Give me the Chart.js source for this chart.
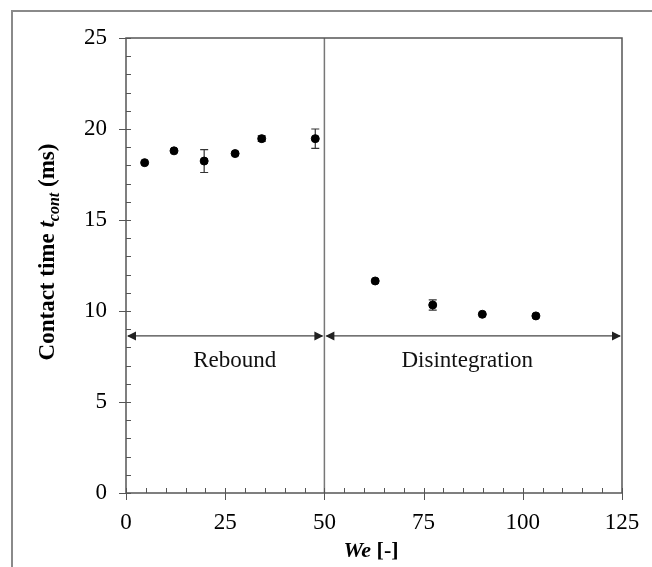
<!DOCTYPE html>
<html>
<head>
<meta charset="utf-8">
<script src="https://cdn.jsdelivr.net/npm/chart.js@4/dist/chart.umd.min.js"></script>
<style>
  html, body { margin: 0; padding: 0; background: #fff; }
  #wrap { width: 652px; height: 567px; }
</style>
</head>
<body>
<div id="wrap"><canvas id="c" width="652" height="567"></canvas></div>
<script>
// Weber number and contact time (ms)
const weValues = [4.7, 12.1, 19.7, 27.5, 34.2, 47.7, 62.8, 77.3, 89.8, 103.3];
const contactTime = [18.15, 18.8, 18.24, 18.65, 19.47, 19.47, 11.65, 10.33, 9.82, 9.73];
const contactErr = [0, 0, 0.63, 0, 0.15, 0.53, 0, 0.28, 0, 0];

const xTicks = [0, 25, 50, 75, 100, 125];
const yTicks = [0, 5, 10, 15, 20, 25];

// regime boundary and labels
const boundaryWe = 50;
const arrowLevel = 8.63;
const regimes = [
  { label: 'Rebound', from: 0, to: 50, textX: 27.4 },
  { label: 'Disintegration', from: 50, to: 125, textX: 86 }
];
const regimeTextY = 7.25;

const serif = "'Liberation Serif', 'Times New Roman', serif";
const axisColor = '#555';

function arrowHead(ctx, x, y, dir) {
  ctx.beginPath();
  ctx.moveTo(x, y);
  ctx.lineTo(x - dir * 9, y - 4.5);
  ctx.lineTo(x - dir * 9, y + 4.5);
  ctx.closePath();
  ctx.fill();
}

const overlay = {
  id: 'overlay',
  beforeDraw(chart) {
    const ctx = chart.ctx;
    ctx.save();
    ctx.fillStyle = '#fff';
    ctx.fillRect(0, 0, chart.width, chart.height);
    // outer figure frame (only top/left visible)
    ctx.strokeStyle = '#8a8a8a';
    ctx.lineWidth = 2;
    ctx.beginPath();
    ctx.moveTo(12, chart.height);
    ctx.lineTo(12, 11);
    ctx.lineTo(chart.width, 11);
    ctx.stroke();
    ctx.restore();
  },
  beforeDatasetsDraw(chart) {
    const ctx = chart.ctx;
    const xs = chart.scales.x, ys = chart.scales.y;
    ctx.save();
    // boundary line
    ctx.strokeStyle = '#777';
    ctx.lineWidth = 1.5;
    const bx = xs.getPixelForValue(boundaryWe);
    ctx.beginPath();
    ctx.moveTo(bx, ys.getPixelForValue(0));
    ctx.lineTo(bx, ys.getPixelForValue(25));
    ctx.stroke();

    // double arrows
    ctx.strokeStyle = '#444';
    ctx.fillStyle = '#222';
    ctx.lineWidth = 1.3;
    const ay = ys.getPixelForValue(arrowLevel);
    regimes.forEach(r => {
      const x1 = xs.getPixelForValue(r.from), x2 = xs.getPixelForValue(r.to);
      ctx.beginPath();
      ctx.moveTo(x1 + 2, ay);
      ctx.lineTo(x2 - 2, ay);
      ctx.stroke();
      arrowHead(ctx, x1 + 1, ay, -1);
      arrowHead(ctx, x2 - 1, ay, 1);
    });

    // regime labels
    ctx.fillStyle = '#111';
    ctx.font = '23px ' + serif;
    ctx.textAlign = 'center';
    ctx.textBaseline = 'middle';
    regimes.forEach(r => {
      ctx.fillText(r.label, xs.getPixelForValue(r.textX), ys.getPixelForValue(regimeTextY));
    });

    // error bars
    ctx.strokeStyle = '#333';
    ctx.lineWidth = 1.2;
    weValues.forEach((we, i) => {
      if (!contactErr[i]) return;
      const px = xs.getPixelForValue(we);
      const top = ys.getPixelForValue(contactTime[i] + contactErr[i]);
      const bot = ys.getPixelForValue(contactTime[i] - contactErr[i]);
      ctx.beginPath();
      ctx.moveTo(px, top); ctx.lineTo(px, bot);
      ctx.moveTo(px - 4, top); ctx.lineTo(px + 4, top);
      ctx.moveTo(px - 4, bot); ctx.lineTo(px + 4, bot);
      ctx.stroke();
    });
    ctx.restore();
  },
  afterDraw(chart) {
    const ctx = chart.ctx;
    const xs = chart.scales.x, ys = chart.scales.y;
    const a = chart.chartArea;
    ctx.save();
    ctx.strokeStyle = axisColor;
    ctx.lineWidth = 1.5;
    // plot frame
    ctx.strokeRect(a.left, a.top, a.right - a.left, a.bottom - a.top);

    ctx.lineWidth = 1;
    // y ticks: majors every 5 crossing, minors every 1 inside
    for (let v = 0; v <= 25; v++) {
      const py = Math.round(ys.getPixelForValue(v)) + 0.5;
      ctx.beginPath();
      if (v % 5 === 0) { ctx.moveTo(a.left - 7, py); ctx.lineTo(a.left + 5, py); }
      else { ctx.moveTo(a.left, py); ctx.lineTo(a.left + 5, py); }
      ctx.stroke();
    }
    // x ticks: majors every 25 crossing, minors every 5 inside
    for (let v = 0; v <= 125; v += 5) {
      const px = Math.round(xs.getPixelForValue(v)) + 0.5;
      ctx.beginPath();
      if (v % 25 === 0) { ctx.moveTo(px, a.bottom + 7); ctx.lineTo(px, a.bottom - 5); }
      else { ctx.moveTo(px, a.bottom); ctx.lineTo(px, a.bottom - 5); }
      ctx.stroke();
    }

    // axis titles with mixed styles
    ctx.fillStyle = '#000';
    ctx.textBaseline = 'alphabetic';
    ctx.textAlign = 'left';

    // x title: "We [-]"
    const xParts = [
      { t: 'We', f: 'italic bold 22px ' + serif },
      { t: ' [-]', f: 'bold 22px ' + serif }
    ];
    let w = 0;
    xParts.forEach(p => { ctx.font = p.f; w += ctx.measureText(p.t).width; });
    let cx = 371 - w / 2;
    xParts.forEach(p => { ctx.font = p.f; ctx.fillText(p.t, cx, 557); cx += ctx.measureText(p.t).width; });

    // y title: "Contact time t_cont (ms)"
    const yParts = [
      { t: 'Contact time ', f: 'bold 23px ' + serif, dy: 0 },
      { t: 't', f: 'italic bold 23px ' + serif, dy: 0 },
      { t: 'cont', f: 'italic bold 16px ' + serif, dy: 5 },
      { t: ' (ms)', f: 'bold 23px ' + serif, dy: 0 }
    ];
    w = 0;
    yParts.forEach(p => { ctx.font = p.f; w += ctx.measureText(p.t).width; });
    ctx.translate(54, 252);
    ctx.rotate(-Math.PI / 2);
    cx = -w / 2;
    yParts.forEach(p => { ctx.font = p.f; ctx.fillText(p.t, cx, p.dy); cx += ctx.measureText(p.t).width; });
    ctx.restore();
  }
};

new Chart(document.getElementById('c'), {
  type: 'scatter',
  data: {
    datasets: [{
      label: 'Contact time',
      data: weValues.map((we, i) => ({ x: we, y: contactTime[i] })),
      backgroundColor: '#000',
      borderColor: '#000',
      pointRadius: 4,
      pointHoverRadius: 4
    }]
  },
  options: {
    responsive: false,
    animation: false,
    events: [],
    layout: { padding: { left: 0, top: 38, right: 30, bottom: 0 } },
    plugins: { legend: { display: false }, tooltip: { enabled: false } },
    scales: {
      x: {
        type: 'linear',
        min: 0, max: 125,
        afterBuildTicks: s => { s.ticks = xTicks.map(v => ({ value: v })); },
        afterFit: s => { s.height = 74; s.paddingLeft = 0; s.paddingRight = 0; },
        grid: { display: false, drawTicks: false },
        border: { display: false },
        ticks: { color: '#000', padding: 16, maxRotation: 0, font: { family: serif, size: 23 } }
      },
      y: {
        type: 'linear',
        min: 0, max: 25,
        afterBuildTicks: s => { s.ticks = yTicks.map(v => ({ value: v })); },
        afterFit: s => { s.width = 126; s.paddingTop = 0; s.paddingBottom = 0; },
        grid: { display: false, drawTicks: false },
        border: { display: false },
        ticks: { color: '#000', padding: 19, font: { family: serif, size: 23 } }
      }
    }
  },
  plugins: [overlay]
});
</script>
</body>
</html>
